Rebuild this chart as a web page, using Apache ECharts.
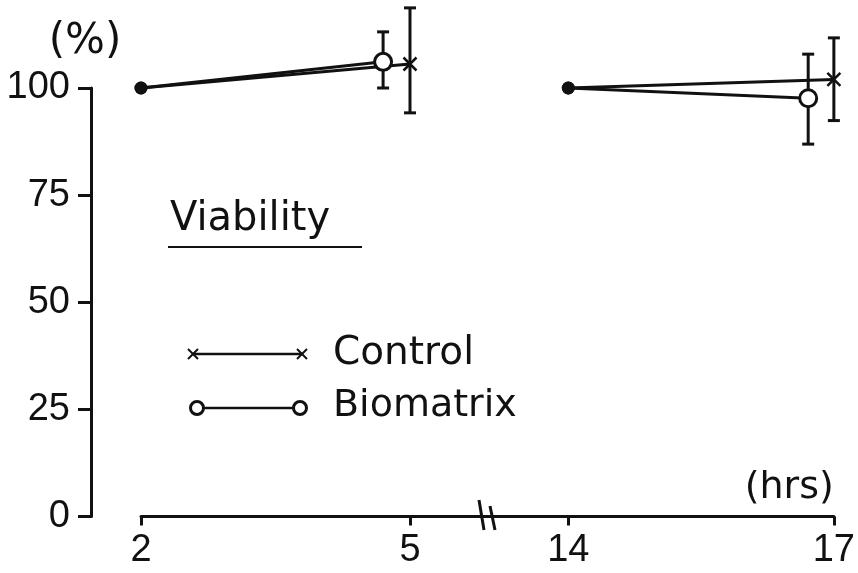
<!DOCTYPE html>
<html>
<head>
<meta charset="utf-8">
<script src="https://cdn.jsdelivr.net/npm/echarts@6/dist/echarts.min.js"></script>
<style>
html,body{margin:0;padding:0;background:#fff;}
#chart{width:858px;height:573px;}
</style>
</head>
<body>
<div id="chart"></div>
<script>
// ---- data ----
const controlHours      = [2, 5, 14, 17];
const controlViability  = [100, 105.6, 100, 102.0];
const controlLow        = [null, 94.2, null, 92.4];
const controlHigh       = [null, 118.7, null, 111.7];

const biomatrixHours     = [2, 4.7, 14, 16.71];
const biomatrixViability = [100, 106.1, 100, 97.6];
const biomatrixLow       = [null, 100.0, null, 86.9];
const biomatrixHigh      = [null, 113.1, null, 107.9];

const yTickValues  = [0, 25, 50, 75, 100];
const xTicksEarly  = [2, 5];
const xTicksLate   = [14, 17];
const breakAfter   = 10; // hours before the axis break belong to the left panel

// ---- helpers ----
const INK = '#111';
const numFont = '"Liberation Sans Narrow", "Liberation Sans", Arial, sans-serif';
const txtFont = '"DejaVu Sans", "Liberation Sans", sans-serif';

function segment(hours, vals, early) {
  const out = [];
  hours.forEach((h, i) => {
    if ((h < breakAfter) === early) out.push({ idx: i, value: [h, vals[i]] });
  });
  return out;
}
function lineData(hours, vals, early) {
  return segment(hours, vals, early).map((d, k) => {
    if (k === 0) {
      return { value: d.value, symbol: 'circle', symbolSize: 13,
               itemStyle: { color: INK, borderWidth: 0 } };
    }
    return { value: d.value };
  });
}
function errData(hours, lows, highs, early) {
  const out = [];
  hours.forEach((h, i) => {
    if ((h < breakAfter) === early && lows[i] != null) out.push([h, lows[i], highs[i]]);
  });
  return out;
}
function renderErr(params, api) {
  const x = api.value(0);
  const lo = api.coord([x, api.value(1)]);
  const hi = api.coord([x, api.value(2)]);
  const cw = 6;
  const st = { stroke: INK, lineWidth: 3 };
  return { type: 'group', children: [
    { type: 'line', shape: { x1: lo[0], y1: lo[1], x2: hi[0], y2: hi[1] }, style: st },
    { type: 'line', shape: { x1: lo[0]-cw, y1: lo[1], x2: lo[0]+cw, y2: lo[1] }, style: st },
    { type: 'line', shape: { x1: hi[0]-cw, y1: hi[1], x2: hi[0]+cw, y2: hi[1] }, style: st }
  ]};
}

const crossPath = 'path://M0,0L10,10M10,0L0,10';

function controlSeries(early) {
  return {
    type: 'line', name: 'Control', xAxisIndex: early ? 0 : 1, yAxisIndex: early ? 0 : 1,
    data: lineData(controlHours, controlViability, early),
    symbol: crossPath, symbolSize: 13, clip: false, z: 3,
    itemStyle: { color: INK, borderColor: INK, borderWidth: 2.5 },
    lineStyle: { color: INK, width: 3 },
    emphasis: { disabled: true }
  };
}
function bioSeries(early) {
  return {
    type: 'line', name: 'Biomatrix', xAxisIndex: early ? 0 : 1, yAxisIndex: early ? 0 : 1,
    data: lineData(biomatrixHours, biomatrixViability, early),
    symbol: 'circle', symbolSize: 17, clip: false, z: 4,
    itemStyle: { color: '#fff', borderColor: INK, borderWidth: 3 },
    lineStyle: { color: INK, width: 3 },
    emphasis: { disabled: true }
  };
}
function errSeries(hours, lows, highs, early) {
  return {
    type: 'custom', xAxisIndex: early ? 0 : 1, yAxisIndex: early ? 0 : 1,
    data: errData(hours, lows, highs, early), renderItem: renderErr,
    encode: { x: 0, y: [1, 2] }, clip: false, z: 1, silent: true
  };
}

const axisLineStyle = { color: INK, width: 3 };
function xAxis(idx, min, max, ticks, withName) {
  const a = {
    type: 'value', gridIndex: idx, min: min, max: max,
    splitLine: { show: false },
    axisLine: { show: true, lineStyle: axisLineStyle },
    axisTick: { show: true, customValues: ticks, length: 9, lineStyle: { color: INK, width: 3 } },
    axisLabel: { show: true, customValues: ticks, color: INK, fontSize: 38, fontFamily: numFont, margin: 15 }
  };
  if (withName) {
    a.name = '(hrs)';
    a.nameLocation = 'end';
    a.nameGap = 0;
    a.nameTextStyle = { color: INK, fontSize: 38, fontFamily: txtFont, align: 'right',
                        verticalAlign: 'bottom', padding: [0, 0, 9, 0] };
  }
  return a;
}

function crossLines(cx, cy, r) {
  const st = { stroke: INK, lineWidth: 2 };
  return [
    { type: 'line', shape: { x1: cx - r, y1: cy - r, x2: cx + r, y2: cy + r }, style: st },
    { type: 'line', shape: { x1: cx + r, y1: cy - r, x2: cx - r, y2: cy + r }, style: st }
  ];
}

const option = {
  backgroundColor: '#fff',
  animation: false,
  grid: [
    { left: 141, top: 88, width: 347, bottom: 56.5 },
    { left: 488, top: 88, right: 21, bottom: 56.5 }
  ],
  xAxis: [
    xAxis(0, 2, 5.87, xTicksEarly, false),
    xAxis(1, 13.093, 17, xTicksLate, true)
  ],
  yAxis: [
    { type: 'value', gridIndex: 0, min: 0, max: 100, interval: 25, offset: 50,
      position: 'left',
      name: '(%)', nameLocation: 'end', nameGap: 25,
      nameTextStyle: { color: INK, fontSize: 42, fontFamily: txtFont, padding: [0, 12, 0, 0] },
      splitLine: { show: false },
      axisLine: { show: true, lineStyle: axisLineStyle },
      axisTick: { show: true, customValues: yTickValues, length: 13, lineStyle: { color: INK, width: 3 } },
      axisLabel: { customValues: yTickValues, color: INK, fontSize: 38, fontFamily: numFont, margin: 21 } },
    { type: 'value', gridIndex: 1, min: 0, max: 100, show: false }
  ],
  graphic: [
    // axis break marks
    { type: 'line', shape: { x1: 479, y1: 500, x2: 484, y2: 530 }, style: { stroke: INK, lineWidth: 3 } },
    { type: 'line', shape: { x1: 490, y1: 506, x2: 495, y2: 530 }, style: { stroke: INK, lineWidth: 3 } },
    // legend title
    { type: 'text', x: 170, y: 200, style: { text: 'Viability', fill: INK, font: '40px ' + txtFont } },
    { type: 'line', shape: { x1: 168, y1: 247, x2: 362, y2: 247 }, style: { stroke: INK, lineWidth: 2 } },
    // Control legend
    { type: 'line', shape: { x1: 193, y1: 354, x2: 302, y2: 354 }, style: { stroke: INK, lineWidth: 2.5 } },
    ...crossLines(193, 354, 5),
    ...crossLines(302, 354, 5),
    { type: 'text', x: 333, y: 334, style: { text: 'Control', fill: INK, font: '39px ' + txtFont } },
    // Biomatrix legend
    { type: 'line', shape: { x1: 203, y1: 408, x2: 294, y2: 408 }, style: { stroke: INK, lineWidth: 2.5 } },
    { type: 'circle', shape: { cx: 197, cy: 408, r: 6.5 }, style: { stroke: INK, lineWidth: 3, fill: '#fff' } },
    { type: 'circle', shape: { cx: 300, cy: 408, r: 6.5 }, style: { stroke: INK, lineWidth: 3, fill: '#fff' } },
    { type: 'text', x: 333, y: 387, style: { text: 'Biomatrix', fill: INK, font: '38px ' + txtFont } }
  ],
  series: [
    errSeries(controlHours, controlLow, controlHigh, true),
    errSeries(biomatrixHours, biomatrixLow, biomatrixHigh, true),
    errSeries(controlHours, controlLow, controlHigh, false),
    errSeries(biomatrixHours, biomatrixLow, biomatrixHigh, false),
    controlSeries(true), controlSeries(false),
    bioSeries(true), bioSeries(false)
  ]
};

const chart = echarts.init(document.getElementById('chart'), null, { renderer: 'canvas' });
chart.setOption(option);
</script>
</body>
</html>
